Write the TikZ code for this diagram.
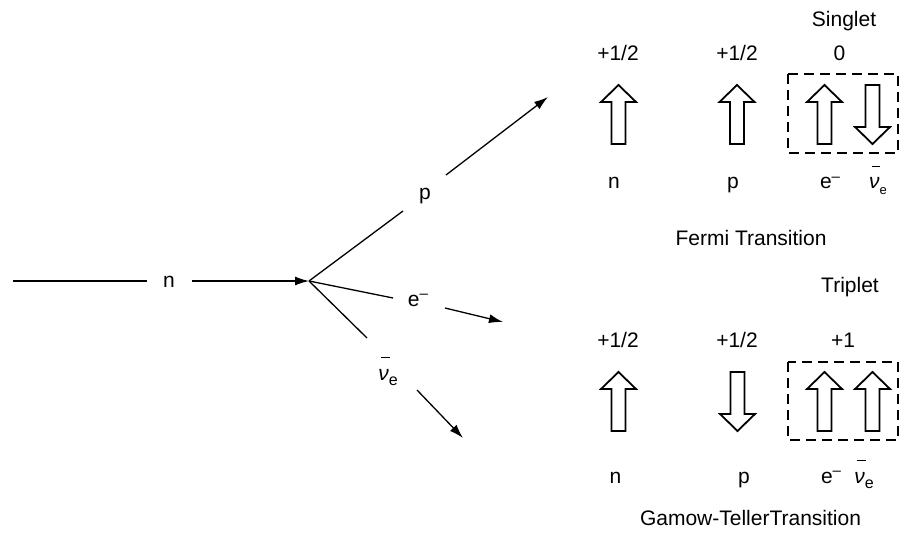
\documentclass[tikz,border=0pt]{standalone}
\usepackage{fontspec}
\setmainfont{Liberation Sans}
\usetikzlibrary{arrows.meta}
% barred electron antineutrino; argument is the subscript size
\newcommand\antinu[1]{\makebox[0pt][l]{\hspace{0.12em}\raisebox{1.05em}{\rule{0.42em}{1pt}}}{\itshape ν}\raisebox{-0.28em}{\fontsize{#1}{#1}\selectfont e}}
\newcommand\elec{e\raisebox{0.38em}{\fontsize{15}{15}\selectfont –}}
\begin{document}
\begin{tikzpicture}[x=1pt,y=-1pt,
  lbl/.style={anchor=base,inner sep=0pt,font=\fontsize{21}{25}\selectfont},
  track/.style={line width=1.3pt},
  trackarrow/.style={track,-{Latex[length=14pt,width=9pt]}},
  spin/.style={line width=1.8pt,miter limit=10,fill=white},
  pair/.style={line width=2pt,dash pattern=on 10pt off 6pt},
  upspin/.pic={\draw[spin] (0,0) -- (17.5,17) -- (7,17) -- (7,59) -- (-7,59) -- (-7,17) -- (-17.5,17) -- cycle;},
  downspin/.pic={\draw[spin] (0,59) -- (17.5,42) -- (7,42) -- (7,0) -- (-7,0) -- (-7,42) -- (-17.5,42) -- cycle;},
]
\useasboundingbox (0,0) rectangle (904,537);

% ---- decay vertex: n -> p + e- + antineutrino ----
\coordinate (vtx) at (309,281);
\coordinate (n0) at (13,281);
\coordinate (nA) at (147,281);
\coordinate (nB) at (192,281);
\node[lbl] (nlab) at (169,287) {n};
\draw[track] (n0) -- (nA);
\draw[trackarrow] (nB) -- (vtx);

\coordinate (pA) at (403,211);
\coordinate (pB) at (446,175);
\coordinate (ptip) at (548,97);
\node[lbl] (plab) at (425,200) {p};
\draw[track] (vtx) -- (pA);
\draw[trackarrow] (pB) -- (ptip);

\coordinate (eA) at (393,298);
\coordinate (eB) at (445,308);
\coordinate (etip) at (503,322);
\node[lbl] (elab) at (418,306) {\elec};
\draw[track] (vtx) -- (eA);
\draw[trackarrow] (eB) -- (etip);

\coordinate (vA) at (367,338);
\coordinate (vB) at (417,390);
\coordinate (vtip) at (463,438);
\node[lbl] (vlab) at (388,380) {\antinu{16}};
\draw[track] (vtx) -- (vA);
\draw[trackarrow] (vB) -- (vtip);

% ---- Fermi transition ----
\node[lbl] (singlet) at (844,27) {Singlet};
\node[lbl] (fsn) at (618,61) {+1/2};
\node[lbl] (fsp) at (737,61) {+1/2};
\node[lbl] (fsz) at (839.5,61) {0};
\pic at (618.5,85) {upspin};
\pic at (737,85) {upspin};
\pic at (824.5,85) {upspin};
\pic at (872.5,85) {downspin};
\draw[pair] (788,74) rectangle (898,153);
\node[lbl] (fn) at (614,189) {n};
\node[lbl] (fp) at (733,189) {p};
\node[lbl] (fe) at (830,189) {\elec};
\node[lbl] (fv) at (878,189) {\antinu{13}};
\node[lbl] (fermi) at (751,245) {Fermi Transition};

% ---- Gamow-Teller transition ----
\node[lbl] (triplet) at (850,292) {Triplet};
\node[lbl] (gsn) at (618,347) {+1/2};
\node[lbl] (gsp) at (737,347) {+1/2};
\node[lbl] (gsz) at (843,347) {+1};
\pic at (618.5,372) {upspin};
\pic at (737.5,372) {downspin};
\pic at (824.5,372) {upspin};
\pic at (872.5,372) {upspin};
\draw[pair] (788,362) rectangle (898,440);
\node[lbl] (gn) at (615.5,483) {n};
\node[lbl] (gp) at (744,483) {p};
\node[lbl] (ge) at (831,483) {\elec};
\node[lbl] (gv) at (864,483) {\antinu{16}};
\node[lbl] (gamow) at (750.5,525) {Gamow-TellerTransition};
\end{tikzpicture}
\end{document}
